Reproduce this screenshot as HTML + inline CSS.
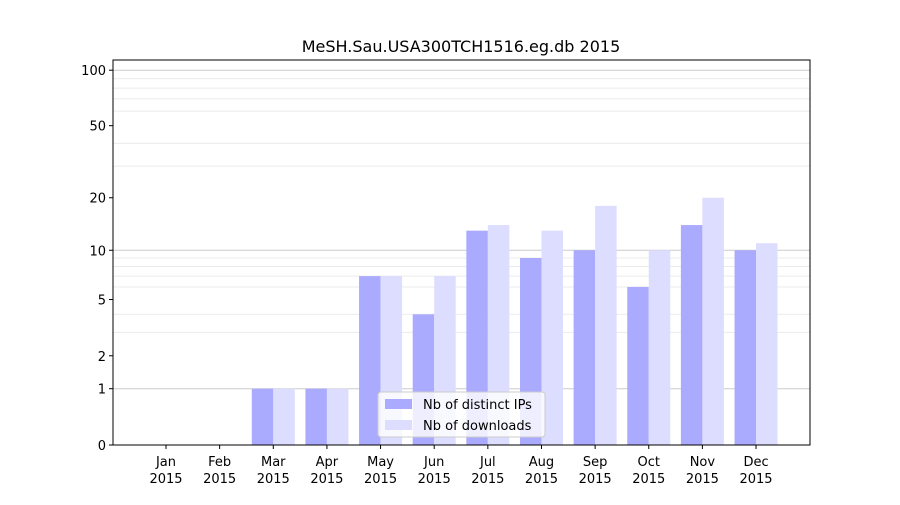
<!DOCTYPE html>
<html><head><meta charset="utf-8"><style>
body{margin:0;background:#fff;font-family:"Liberation Sans","DejaVu Sans",sans-serif}
svg text{font-family:"DejaVu Sans","Liberation Sans",sans-serif}
</style></head><body>
<svg id="chart" width="900" height="500" xmlns="http://www.w3.org/2000/svg">
<rect width="900" height="500" fill="#fff"/>
<text x="461" y="52" font-size="16" text-anchor="middle">MeSH.Sau.USA300TCH1516.eg.db 2015</text>
<g id="grid"></g><g id="bars"></g><g id="axes"></g>
</svg>
<script>
const months=["Jan","Feb","Mar","Apr","May","Jun","Jul","Aug","Sep","Oct","Nov","Dec"];
const ips=[0,0,1,1,7,4,13,9,10,6,14,10];
const downloads=[0,0,1,1,7,7,14,13,18,10,20,11];
const yTicks=[0,1,2,5,10,20,50,100];
const minorTicks=[3,4,6,7,8,9,30,40,60,70,80,90];
const majorTicks=[1,10,100];
const NS="http://www.w3.org/2000/svg";
const L=113,R=810,T=60,B=445;
function y(v){return B-187*Math.log10(1+v);}
function xc(i){return 166+i*53.64;}
function mk(tag,attrs,parent){const e=document.createElementNS(NS,tag);for(const k in attrs)e.setAttribute(k,attrs[k]);parent.appendChild(e);return e;}
const grid=document.getElementById('grid'),bars=document.getElementById('bars'),axes=document.getElementById('axes');
minorTicks.forEach(v=>{const l=mk('line',{x1:L,x2:R,y1:y(v),y2:y(v),stroke:'#ebebeb','stroke-width':1},grid);

});
majorTicks.forEach(v=>{const l=mk('line',{x1:L,x2:R,y1:y(v),y2:y(v),stroke:'#cccccc','stroke-width':1},grid);

});
const bw=21.5;
months.forEach((m,i)=>{
 const c=xc(i);
 const b1=mk('rect',{x:c-bw,y:y(ips[i]),width:bw,height:B-y(ips[i]),fill:'#aaaaff'},bars);
 
 
 const b2=mk('rect',{x:c,y:y(downloads[i]),width:bw,height:B-y(downloads[i]),fill:'#ddddff'},bars);
 
 
 mk('line',{x1:c,x2:c,y1:B,y2:B+4,stroke:'#000'},axes);
 const t=mk('text',{x:c,y:B+21,'font-size':13,'text-anchor':'middle'},axes);t.textContent=m;
 
 
 const t2=mk('text',{x:c,y:B+38,'font-size':13,'text-anchor':'middle'},axes);t2.textContent='2015';
 
 
});
yTicks.forEach(v=>{
 mk('line',{x1:L-4,x2:L,y1:y(v),y2:y(v),stroke:'#000'},axes);
 const t=mk('text',{x:L-7,y:y(v)+5,'font-size':13,'text-anchor':'end'},axes);t.textContent=v;
 
 
});
const fr=mk('rect',{x:L,y:T,width:R-L,height:B-T,fill:'none',stroke:'#000','stroke-width':1},axes);


const lg=mk('g',{},axes);


mk('rect',{x:378,y:392,width:167,height:45,fill:'#fff','fill-opacity':0.8,stroke:'#ccc',rx:3},lg);
mk('rect',{x:385,y:399,width:27,height:10,fill:'#aaaaff'},lg);
mk('rect',{x:385,y:420,width:27,height:10,fill:'#ddddff'},lg);
const l1=mk('text',{x:423,y:409,'font-size':13},lg);l1.textContent='Nb of distinct IPs';


const l2=mk('text',{x:423,y:430,'font-size':13},lg);l2.textContent='Nb of downloads';


</script>
</body></html>
